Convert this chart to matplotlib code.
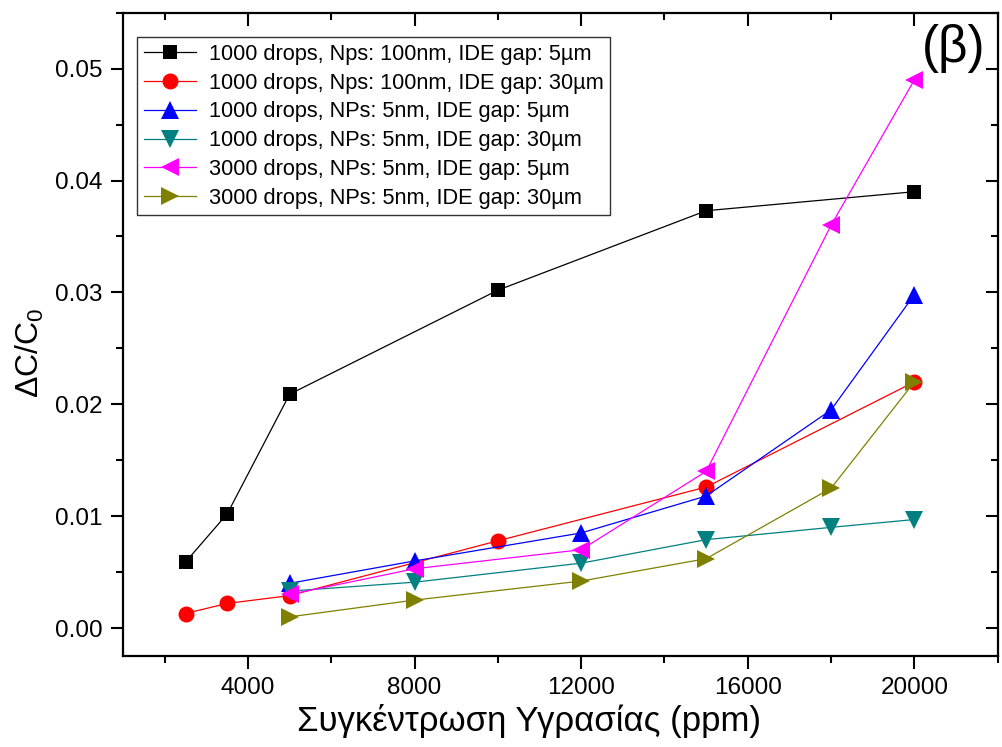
import matplotlib
matplotlib.use("Agg")
import matplotlib.pyplot as plt
from matplotlib.ticker import MultipleLocator, FormatStrFormatter

plt.rcParams['font.family'] = ['Liberation Sans', 'DejaVu Sans']
plt.rcParams['mathtext.fontset'] = 'custom'
plt.rcParams['mathtext.rm'] = 'Liberation Sans'
plt.rcParams['mathtext.it'] = 'Liberation Sans'

# Humidity concentration (ppm) and normalized capacitance change for each sensor
x_black = [2500, 3500, 5000, 10000, 15000, 20000]
y_black = [0.0059, 0.0102, 0.0209, 0.0302, 0.0373, 0.0390]

x_red = [2500, 3500, 5000, 10000, 15000, 20000]
y_red = [0.0013, 0.0022, 0.0029, 0.0078, 0.0126, 0.0220]

x_blue = [5000, 8000, 12000, 15000, 18000, 20000]
y_blue = [0.0040, 0.0060, 0.0085, 0.0118, 0.0195, 0.0298]

x_teal = [5000, 8000, 12000, 15000, 18000, 20000]
y_teal = [0.0033, 0.0041, 0.0058, 0.0079, 0.0090, 0.0097]

x_magenta = [5000, 8000, 12000, 15000, 18000, 20000]
y_magenta = [0.0030, 0.0053, 0.0070, 0.0140, 0.0360, 0.0490]

x_olive = [5000, 8000, 12000, 15000, 18000, 20000]
y_olive = [0.0010, 0.0025, 0.0042, 0.0062, 0.0125, 0.0220]

labels = [
    "1000 drops, Nps: 100nm, IDE gap: 5\u00b5m",
    "1000 drops, Nps: 100nm, IDE gap: 30\u00b5m",
    "1000 drops, NPs: 5nm, IDE gap: 5\u00b5m",
    "1000 drops, NPs: 5nm, IDE gap: 30\u00b5m",
    "3000 drops, NPs: 5nm, IDE gap: 5\u00b5m",
    "3000 drops, NPs: 5nm, IDE gap: 30\u00b5m",
]

fig = plt.figure(figsize=(10.02, 7.47), dpi=100)
ax = fig.add_axes([0.1228, 0.1218, 0.8729, 0.8612])

series = [
    (x_black, y_black, 'black', 's', 10.5),
    (x_red, y_red, 'red', 'o', 11.5),
    (x_blue, y_blue, 'blue', '^', 13),
    (x_teal, y_teal, '#008080', 'v', 13),
    (x_magenta, y_magenta, '#ff00ff', '<', 13),
    (x_olive, y_olive, '#808000', '>', 13),
]
for (xs, ys, c, m, ms), lab in zip(series, labels):
    ax.plot(xs, ys, color=c, marker=m, markersize=ms, linewidth=0.9,
            markeredgewidth=0, label=lab)

ax.set_xlim(1000, 22000)
ax.set_ylim(-0.0025, 0.055)
ax.set_xticks([4000, 8000, 12000, 16000, 20000])
ax.xaxis.set_minor_locator(MultipleLocator(2000))
ax.yaxis.set_major_locator(MultipleLocator(0.01))
ax.yaxis.set_minor_locator(MultipleLocator(0.005))
ax.yaxis.set_major_formatter(FormatStrFormatter('%.2f'))

for s in ax.spines.values():
    s.set_linewidth(1.6)

ax.tick_params(which='major', direction='out', length=9, width=1.5,
               labelsize=17.5)
ax.tick_params(axis='x', which='major', pad=6)
ax.tick_params(axis='y', which='major', pad=6)
ax.tick_params(which='minor', direction='out', length=5, width=1.5)
ax.tick_params(which='both', top=True, right=True)
# ticks on the top and right edges point inward
for t in ax.xaxis.get_major_ticks() + ax.xaxis.get_minor_ticks():
    t.tick2line.set_marker(3)
for t in ax.yaxis.get_major_ticks() + ax.yaxis.get_minor_ticks():
    t.tick2line.set_marker(0)

ax.set_xlabel("Συγκέντρωση Υγρασίας (ppm)", fontsize=25, va='top')
ax.xaxis.set_label_coords(0.464, -0.074)
ax.set_ylabel("ΔC/C$_0$", fontsize=23)
ax.yaxis.set_label_coords(-0.088, 0.472)

ax.text(0.9855, 0.983, "(β)", transform=ax.transAxes, ha='right', va='top',
        fontsize=37)

leg = ax.legend(loc='upper left', bbox_to_anchor=(0.016, 0.962),
                borderaxespad=0, fontsize=15.7, frameon=True, fancybox=False,
                edgecolor='black', handlelength=2.4, handletextpad=0.6,
                labelspacing=0.36, borderpad=0.3)
leg.get_frame().set_linewidth(1.0)

fig.savefig("out.png", dpi=100)
